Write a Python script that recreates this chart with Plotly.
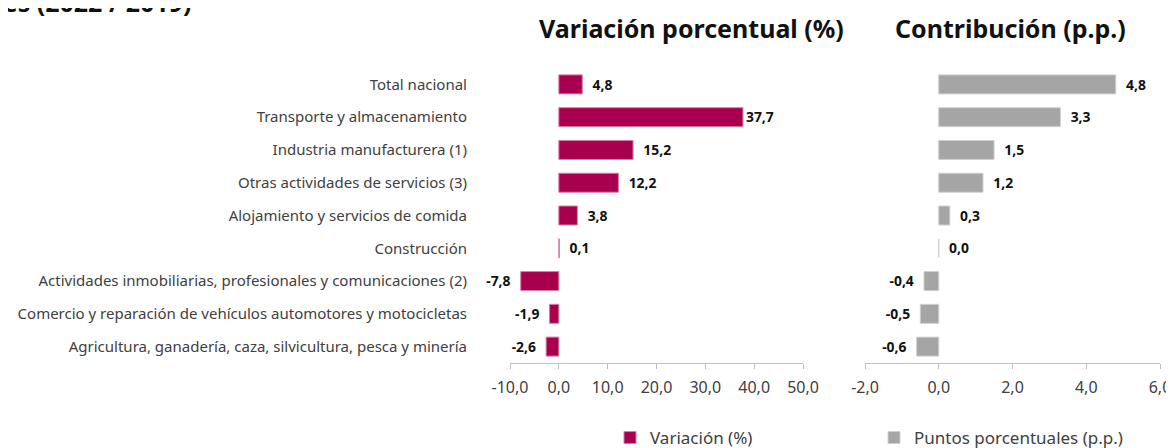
import plotly.graph_objects as go

# sectors, top to bottom
sectores = [
    'Total nacional',
    'Transporte y almacenamiento',
    'Industria manufacturera (1)',
    'Otras actividades de servicios (3)',
    'Alojamiento y servicios de comida',
    'Construcción',
    'Actividades inmobiliarias, profesionales y comunicaciones (2)',
    'Comercio y reparación de vehículos automotores y motocicletas',
    'Agricultura, ganadería, caza, silvicultura, pesca y minería',
]
variacion = [4.8, 37.7, 15.2, 12.2, 3.8, 0.1, -7.8, -1.9, -2.6]
contribucion = [4.8, 3.3, 1.5, 1.2, 0.3, 0.0, -0.4, -0.5, -0.6]

ticks_var = [-10, 0, 10, 20, 30, 40, 50]
ticks_pp = [-2, 0, 2, 4, 6]

W, H = 1174, 448
OFF = 8  # page body margin
FONT = 'Noto Sans'
MAGENTA = '#A8004F'
GRIS = '#A5A5A5'
NB = '\u00a0'


def fmt(v):
    return f'{v:.1f}'.replace('.', ',')


def label(v, pad=2):
    # excel puts the labels a little away from the bar end
    s = fmt(v)
    return s + NB * pad if v < 0 else NB * pad + s


def px(x):
    return (x - OFF) / W


def py(y):
    return 1 - (y - OFF) / H


fig = go.Figure()

fig.add_trace(go.Bar(
    y=sectores, x=variacion, orientation='h',
    name='Variación (%)',
    marker=dict(color=MAGENTA, line=dict(color='#D77FA7', width=1)),
    text=[label(v, 0 if v > 30 else 2) for v in variacion], textposition='outside',
    textfont=dict(family=FONT, size=19, color='#111111', weight='bold'),
    cliponaxis=False, xaxis='x', yaxis='y', legend='legend',
))

fig.add_trace(go.Bar(
    y=sectores, x=contribucion, orientation='h',
    name='Puntos porcentuales (p.p.)',
    marker=dict(color=GRIS, line=dict(color='#D0D0D0', width=1)),
    text=[label(v) for v in contribucion], textposition='outside',
    textfont=dict(family=FONT, size=19, color='#111111', weight='bold'),
    cliponaxis=False, xaxis='x2', yaxis='y2', legend='legend2',
))

axis_x = dict(
    showgrid=False, zeroline=False, showline=True, linecolor='#BFBFBF',
    ticks='outside', tickcolor='#BFBFBF', ticklen=5,
    tickfont=dict(family=FONT, size=16, color='#404040'),
    ticklabelstandoff=5,
)

fig.update_layout(
    width=W, height=H,
    margin=dict(l=0, r=0, t=0, b=0, autoexpand=False),
    paper_bgcolor='white', plot_bgcolor='white',
    bargap=0.42,
    xaxis=dict(axis_x, domain=[px(510), px(803)], range=[-10, 50], anchor='y',
               tickvals=ticks_var, ticktext=[fmt(t) for t in ticks_var]),
    xaxis2=dict(axis_x, domain=[px(865), px(1160)], range=[-2, 6], anchor='y2',
                tickvals=ticks_pp, ticktext=[fmt(t) for t in ticks_pp]),
    yaxis=dict(domain=[py(363), py(68)], autorange='reversed', showgrid=False,
               zeroline=False, showline=False, ticks='', anchor='x',
               ticklabelstandoff=42,
               tickfont=dict(family=FONT, size=15, color='#404040')),
    yaxis2=dict(domain=[py(363), py(68)], autorange='reversed', showgrid=False,
                zeroline=False, showline=False, ticks='', showticklabels=False,
                anchor='x2', matches='y'),
    legend=dict(orientation='h', x=px(610), y=0, xanchor='left', yanchor='bottom',
                font=dict(family=FONT, size=17, color='#404040'),
                bgcolor='rgba(0,0,0,0)'),
    legend2=dict(orientation='h', x=px(874), y=0, xanchor='left', yanchor='bottom',
                 font=dict(family=FONT, size=17, color='#404040'),
                 bgcolor='rgba(0,0,0,0)'),
    showlegend=True,
)

# page title, cut by the top edge as in the original crop
fig.add_annotation(
    text='<b>Variación por sectores (2022 / 2019)</b>', xref='paper', yref='paper',
    x=px(193), y=1, xanchor='right', yanchor='middle', yshift=6, showarrow=False,
    font=dict(family=FONT, size=25, color='#111111'),
)
fig.add_annotation(
    text='<b>Variación porcentual (%)</b>', xref='paper', yref='paper',
    x=px(691), y=py(28), xanchor='center', yanchor='middle', showarrow=False,
    font=dict(family=FONT, size=25, color='#111111'),
)
fig.add_annotation(
    text='<b>Contribución (p.p.)</b>', xref='paper', yref='paper',
    x=px(1010), y=py(28), xanchor='center', yanchor='middle', showarrow=False,
    font=dict(family=FONT, size=25, color='#111111'),
)

fig.write_html('out.html')
